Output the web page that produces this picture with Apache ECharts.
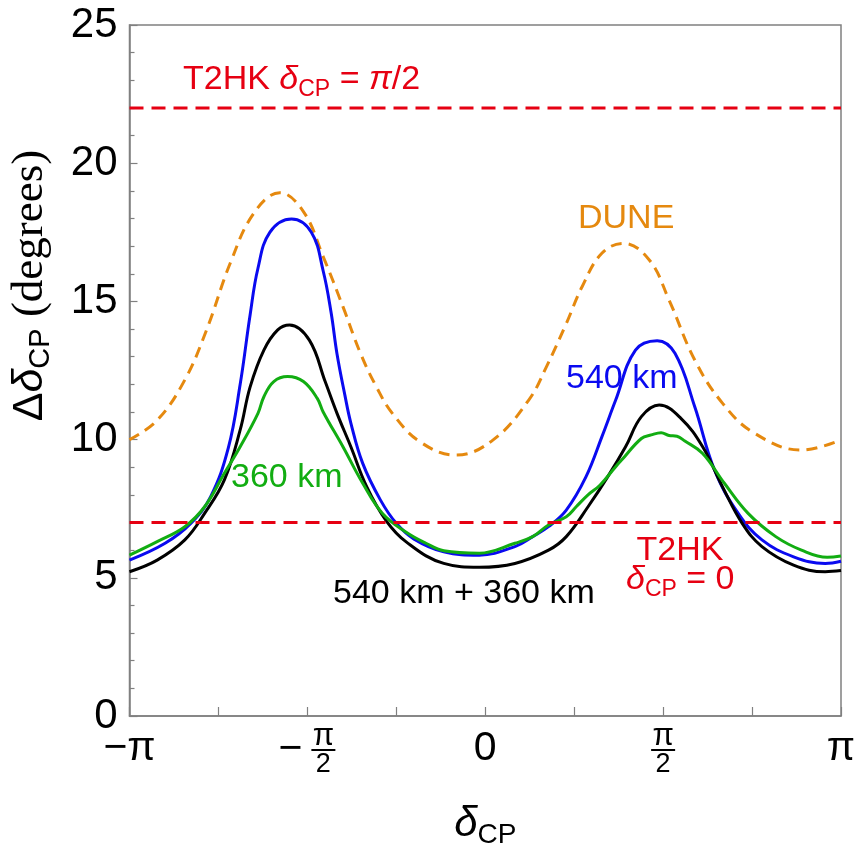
<!DOCTYPE html>
<html><head><meta charset="utf-8">
<script src="https://cdn.jsdelivr.net/npm/echarts@6/dist/echarts.min.js"></script>
<style>html,body{margin:0;padding:0;background:#fff}#c{width:866px;height:857px}</style>
</head><body><div id="c"></div>
<script>
// δCP in degrees (−180 … 180 ≙ −π … π), ΔδCP in degrees
const duneX = [-180,-166,-152,-141,-129,-117,-104,-92,-82,-72,-63,-55,-47,-33,-15,4,22,31,41,49,59,70,83,93,106,120,136,160,180];
const duneY = [10.0,10.7,12.16,13.97,16.39,18.2,18.93,18.25,16.62,14.81,13.1,11.9,10.95,9.92,9.44,9.99,11.43,12.64,14.2,15.53,16.74,17.1,16.5,15.05,12.88,11.32,10.24,9.62,9.99];

const km540X = [-180,-162,-149,-139,-130,-124,-119,-115,-109,-98,-88,-82,-78,-75,-71,-68,-62,-53,-45,-36,-21,-3,15,24,32,41,51,59,66,76,87,96,106,116,128,140,156,172,180];
const km540Y = [5.64,6.25,6.97,7.93,9.7,12.0,14.5,16.2,17.5,17.98,17.5,16.1,14.6,13.1,11.6,10.6,9.14,7.81,6.97,6.4,5.94,5.82,6.13,6.49,6.85,7.45,8.66,10.1,11.43,13.24,13.58,13.12,11.19,8.9,7.33,6.37,5.76,5.52,5.6];

const bothX = [-180,-166,-152,-142,-132,-124,-119,-112,-105,-99,-89,-81,-75,-68,-60,-50,-40,-21,-3,15,32,41,52,62,71,79,88,99,110,120,130,140,156,172,180];
const bothY = [5.22,5.64,6.37,7.33,8.54,10.35,11.9,13.24,13.97,14.15,13.6,12.1,10.95,9.74,8.3,7.05,6.3,5.52,5.38,5.52,6.0,6.49,7.57,8.66,9.74,10.83,11.25,10.77,9.74,8.3,6.97,6.13,5.46,5.22,5.26];

const km360X = [-180,-166,-152,-142,-132,-124,-115,-112,-107,-100,-92,-85,-82,-72,-62,-52,-40,-30,-21,-3,15,24,32,41,46,52,58,66,69,79,84,89,93,97,101,110,121,133,147,160,173,180];
const km360Y = [5.82,6.31,6.85,7.57,8.78,9.74,10.95,11.55,12.1,12.28,12.1,11.49,11.0,9.74,8.42,7.33,6.65,6.25,5.98,5.89,6.25,6.49,6.91,7.21,7.57,8.0,8.35,9.02,9.26,10.04,10.17,10.25,10.15,10.12,9.95,9.5,8.42,7.33,6.49,6.0,5.74,5.79];

const t2hkHalfPi = 22;   // T2HK, δCP = π/2
const t2hkZero = 7;      // T2HK, δCP = 0

const xTickLabels = {'-180':'{b|−π}', '-90':'{sp|}{n|π}\n{m|−}{bar|}\n{sp|}{d|2}', '0':'{b|0}', '90':'{n|π}\n{bar|}\n{d|2}', '180':'{b|π}'};

const SANS = 'Liberation Sans, Arial, sans-serif';
const SERIF = 'Liberation Serif, Times New Roman, serif';
const RED = '#e60012', ORANGE = '#e5890f', BLUE = '#0a0af0', GREEN = '#12ad12', BLACK = '#000000';

const pairs = (xs, ys) => xs.map((x, i) => [x, ys[i]]);

const chart = echarts.init(document.getElementById('c'), null, {renderer: 'canvas'});

const lineSeries = (name, xs, ys, color, dashed, z) => ({
  name, type: 'line', data: pairs(xs, ys), showSymbol: false, symbol: 'none',
  smooth: 0.4, z,
  lineStyle: {color, width: 3, type: dashed ? [11, 7] : 'solid'}
});

const annText = (x, y, text, rich, align) => ({
  type: 'text', x, y, z: 100,
  style: {text, rich, align: align || 'left', verticalAlign: 'middle'}
});

const richAnn = (color) => ({
  t: {fontFamily: SANS, fontSize: 34, fill: color, color, lineHeight: 42},
  d: {fontFamily: SANS, fontStyle: 'italic', fontSize: 34, fill: color, color, lineHeight: 42},
  s: {fontFamily: SANS, fontSize: 23, fill: color, color, lineHeight: 26, verticalAlign: 'bottom'}
});

chart.setOption({
  animation: false,
  backgroundColor: '#fff',
  grid: {left: 125, right: 25, top: 25, bottom: 141, show: true, borderColor: '#808080', borderWidth: 1.5, backgroundColor: 'transparent'},
  xAxis: {
    type: 'value', min: -180, max: 180, interval: 45,
    axisLine: {show: true, onZero: false, lineStyle: {color: '#808080', width: 1.5}},
    axisTick: {show: true, inside: true, length: 9, lineStyle: {color: '#808080', width: 1.2}},
    splitLine: {show: false},
    axisLabel: {
      margin: 10, color: '#000', fontFamily: SANS, fontSize: 41,
      formatter: v => xTickLabels[String(v)] || '',
      rich: {
        b: {fontFamily: SANS, fontSize: 41, color: '#000', lineHeight: 46},
        n: {fontFamily: SANS, fontSize: 31, color: '#000', width: 26, align: 'center', lineHeight: 21},
        d: {fontFamily: SANS, fontSize: 27, color: '#000', width: 26, align: 'center', lineHeight: 24},
        bar: {width: 24, height: 2, lineHeight: 6, backgroundColor: '#000'},
        m: {fontFamily: SANS, fontSize: 41, color: '#000', width: 32, align: 'left', lineHeight: 6},
        sp: {width: 32, lineHeight: 6}
      }
    },
    name: '{d|δ}{s|CP}', nameLocation: 'middle', nameGap: 83,
    nameTextStyle: {
      rich: {
        d: {fontFamily: SANS, fontStyle: 'italic', fontSize: 42, color: '#000', lineHeight: 50},
        s: {fontFamily: SANS, fontSize: 28, color: '#000', lineHeight: 30, verticalAlign: 'bottom'}
      }
    }
  },
  yAxis: {
    type: 'value', min: 0, max: 25, interval: 5,
    axisLine: {show: true, onZero: false, lineStyle: {color: '#808080', width: 1.5}},
    axisTick: {show: true, inside: true, length: 8, lineStyle: {color: '#808080', width: 1.2}},
    minorTick: {show: true, splitNumber: 5, length: 5, lineStyle: {color: '#808080', width: 1.2}},
    splitLine: {show: false},
    axisLabel: {margin: 12, color: '#000', fontFamily: SANS, fontSize: 42},
    name: '{D|Δ}{d|δ}{s|CP}{p| (degrees)}', nameLocation: 'middle', nameGap: 74, nameRotate: 90,
    nameTextStyle: {
      padding: [0, 0, 0, 170],
      rich: {
        D: {fontFamily: SANS, fontSize: 43, color: '#000', lineHeight: 50},
        d: {fontFamily: SANS, fontStyle: 'italic', fontSize: 43, color: '#000', lineHeight: 50},
        s: {fontFamily: SANS, fontSize: 29, color: '#000', lineHeight: 30, verticalAlign: 'bottom'},
        p: {fontFamily: SERIF, fontSize: 45, color: '#000', lineHeight: 50}
      }
    }
  },
  series: [
    lineSeries('DUNE', duneX, duneY, ORANGE, true, 2),
    lineSeries('540 km', km540X, km540Y, BLUE, false, 3),
    lineSeries('540 km + 360 km', bothX, bothY, BLACK, false, 4),
    lineSeries('360 km', km360X, km360Y, GREEN, false, 5),
    {name: 'T2HK π/2', type: 'line', data: [[-180, t2hkHalfPi], [180, t2hkHalfPi]], showSymbol: false, z: 6,
     lineStyle: {color: RED, width: 3, type: [14, 8]}},
    {name: 'T2HK 0', type: 'line', data: [[-180, t2hkZero], [180, t2hkZero]], showSymbol: false, z: 6,
     lineStyle: {color: RED, width: 3, type: [14, 8]}}
  ],
  graphic: [
    annText(183, 80, '{t|T2HK }{d|δ}{s|CP}{t| = }{d|π}{t|/2}', richAnn(RED)),
    annText(578, 219, '{t|DUNE}', richAnn(ORANGE)),
    annText(566, 379, '{t|540 km}', richAnn(BLUE)),
    annText(231, 478, '{t|360 km}', richAnn(GREEN)),
    annText(333, 594, '{t|540 km + 360 km}', richAnn(BLACK)),
    annText(680, 551, '{t|T2HK}', richAnn(RED), 'center'),
    annText(626, 580, '{d|δ}{s|CP}{t| = 0}', richAnn(RED))
  ]
});
</script></body></html>
